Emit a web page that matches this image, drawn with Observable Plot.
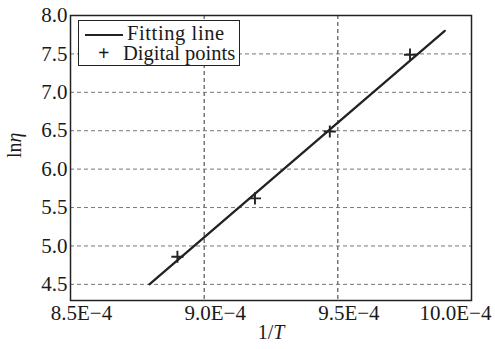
<!DOCTYPE html>
<html>
<head>
<meta charset="utf-8">
<script src="https://cdn.jsdelivr.net/npm/d3@7"></script>
<script src="https://cdn.jsdelivr.net/npm/@observablehq/plot@0.6"></script>
<style>
  html, body { margin: 0; padding: 0; background: #fff; }
  #wrap { position: relative; width: 495px; height: 349px; overflow: hidden; }
  #legend { position: absolute; left: 78px; top: 20px; width: 160px; height: 44px; border: 1.2px solid #222; background: #fff; font-family: 'Liberation Serif'; font-size: 20.5px; color: #1a1a1a; }
  .row { position: absolute; left: 0; height: 22px; line-height: 22px; white-space: nowrap; font-family: 'Liberation Serif'; }
  .ln { position: absolute; left: 6px; top: 12px; width: 38px; border-top: 2px solid #222; }
  .pl { position: absolute; left: 19px; top: 0; font-family: 'Liberation Serif'; font-size: 20px; font-weight: bold; }
  .tx { position: absolute; font-family: 'Liberation Serif'; }
</style>
</head>
<body>
<div id="wrap">
  <div id="chart"></div>
  <div id="legend">
    <div class="row" style="top:1px;"><span class="ln"></span><span class="tx" style="left:48px; letter-spacing:0.6px;">Fitting line</span></div>
    <div class="row" style="top:21px;"><span class="pl">+</span><span class="tx" style="left:44px;">Digital points</span></div>
  </div>
</div>
<script>
// Digital (measured) points
const pointX = [8.90e-4, 9.19e-4, 9.47e-4, 9.77e-4];
const pointY = [4.86, 5.62, 6.49, 7.49];
// Fitting line endpoints
const lineX = [8.795e-4, 9.90e-4];
const lineY = [4.50, 7.80];
// Axis ticks
const xTicks = [8.5e-4, 9.0e-4, 9.5e-4, 10.0e-4];
const xTickLabels = ["8.5E\u22124", "9.0E\u22124", "9.5E\u22124", "10.0E\u22124"];
const yTicks = [4.5, 5.0, 5.5, 6.0, 6.5, 7.0, 7.5, 8.0];

const points = pointX.map((x, i) => ({x, y: pointY[i]}));
const line = lineX.map((x, i) => ({x, y: lineY[i]}));
const FF = "Liberation Serif";
const fmtX = d => xTickLabels[xTicks.indexOf(d)];

const chart = Plot.plot({
  width: 495,
  height: 349,
  marginLeft: 70,
  marginRight: 24,
  marginTop: 15,
  marginBottom: 49,
  style: { fontFamily: FF, fontSize: "21px", color: "#1a1a1a", background: "#fff", overflow: "visible" },
  x: { domain: [8.5e-4, 10.0e-4] },
  y: { domain: [4.29, 8.0] },
  marks: [
    Plot.gridX(xTicks.slice(1, 3), { stroke: "#333", strokeOpacity: 1, strokeDasharray: "4,3", strokeWidth: 1 }),
    Plot.gridY(yTicks.slice(0, 7), { stroke: "#777", strokeOpacity: 1, strokeDasharray: "4,3", strokeWidth: 1 }),
    Plot.axisX(xTicks.slice(0, 3), { tickSize: 0, tickPadding: 5, dx: 11, tickFormat: fmtX, label: null, fontSize: 21, fontFamily: FF }),
    Plot.axisX(xTicks.slice(3), { tickSize: 0, tickPadding: 5, dx: -16, tickFormat: fmtX, label: null, fontSize: 21, fontFamily: FF }),
    Plot.axisY(yTicks, { tickSize: 0, tickPadding: 3, tickFormat: d => d.toFixed(1), label: null, fontSize: 21, fontFamily: FF }),
    Plot.text(["1/T"], { frameAnchor: "bottom", dy: 38, text: d => d, fontSize: 20, fontFamily: FF }),
    Plot.text(["lnη"], { frameAnchor: "left", dx: -56, rotate: -90, text: d => d, fontSize: 20, fontFamily: FF }),
    Plot.line(line, { x: "x", y: "y", stroke: "#222", strokeWidth: 2.3 }),
    Plot.dot(points, { x: "x", y: "y", symbol: "plus", r: 4, stroke: "#222", strokeWidth: 1.9 }),
    Plot.frame({ stroke: "#222", strokeWidth: 1.5 })
  ]
});
document.getElementById("chart").appendChild(chart);
chart.querySelectorAll("text").forEach(t => {
  t.setAttribute("font-family", FF);
  t.style.fontFamily = FF;
  if (t.textContent === "1/T") {
    t.textContent = "1/";
    const ts = document.createElementNS("http://www.w3.org/2000/svg", "tspan");
    ts.setAttribute("font-style", "italic");
    ts.textContent = "T";
    t.appendChild(ts);
  }
  if (t.textContent === "lnη") {
    t.textContent = "ln";
    const ts = document.createElementNS("http://www.w3.org/2000/svg", "tspan");
    ts.setAttribute("font-style", "italic");
    ts.textContent = "η";
    t.appendChild(ts);
  }
});
chart.querySelectorAll("g").forEach(g => { if (g.getAttribute("font-family")) g.setAttribute("font-family", FF); });
</script>
</body>
</html>
